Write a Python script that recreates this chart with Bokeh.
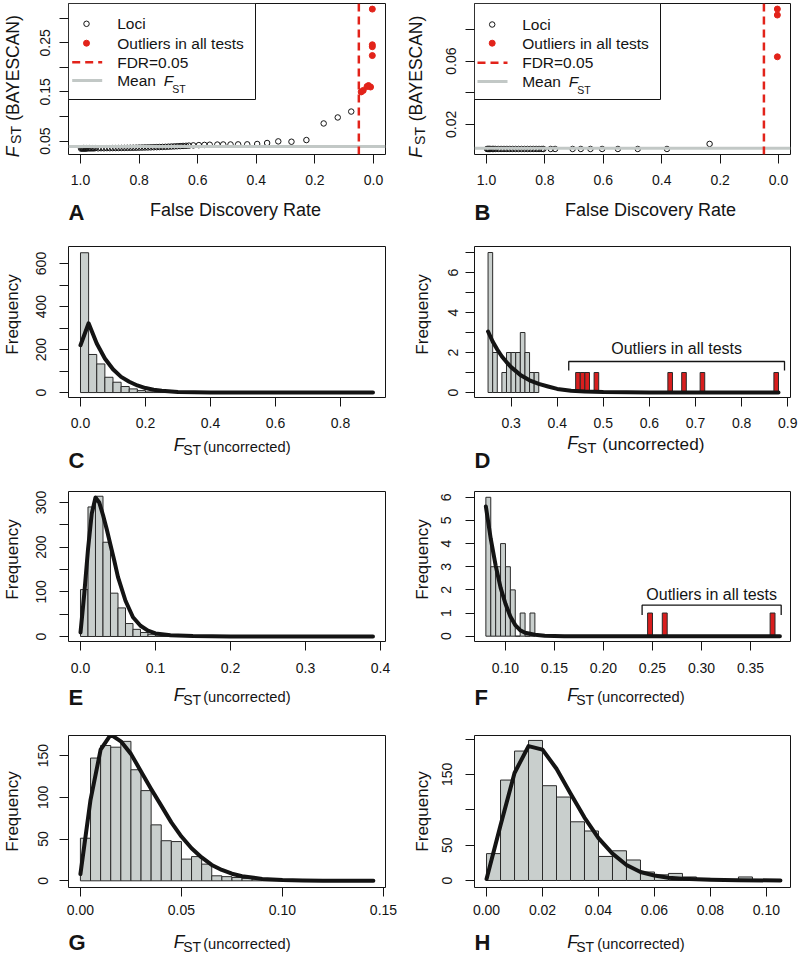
import numpy as np
from bokeh.plotting import figure
from bokeh.models import Range1d, FixedTicker, Label, Span, Spacer
from bokeh.layouts import row, column
from bokeh.embed import file_html
from bokeh.resources import INLINE

FONT = "Liberation Sans"
INK = "#141414"
GREY_BAR = "#c9cfcd"
RED = "#e2231a"
RED_BAR = "#d91e1e"
MEAN_GREY = "#c2c8c6"

# ---------------- data ----------------
FDR_threshold = 0.05

# Panel A : BAYESCAN Fst vs FDR (dataset 1)
A_loci_fdr = [0.998, 0.995, 0.992, 0.99, 0.987, 0.985, 0.982, 0.98,
              0.975, 0.97, 0.965, 0.96, 0.955, 0.95,
              0.94, 0.93, 0.92, 0.91, 0.90, 0.89, 0.88, 0.87, 0.86, 0.85,
              0.84, 0.83, 0.82, 0.81, 0.80, 0.79, 0.78, 0.77, 0.76, 0.75,
              0.74, 0.73, 0.72, 0.71, 0.70, 0.69, 0.68, 0.67, 0.66, 0.65,
              0.64, 0.63,
              0.615, 0.596, 0.577, 0.559, 0.533, 0.513, 0.488, 0.462, 0.431,
              0.397, 0.363, 0.325, 0.280, 0.229, 0.170, 0.122, 0.076]
A_loci_fst = [0.0345, 0.0355, 0.0348, 0.0356, 0.0346, 0.0354, 0.0347, 0.0355,
              0.0349, 0.0356, 0.0350, 0.0355, 0.0351, 0.0356,
              0.0352, 0.0355, 0.0353, 0.0356, 0.0355, 0.0357, 0.0357, 0.0358, 0.0359, 0.0360,
              0.0361, 0.0362, 0.0363, 0.0364, 0.0366, 0.0367, 0.0369, 0.0370, 0.0372, 0.0374,
              0.0376, 0.0378, 0.0380, 0.0382, 0.0385, 0.0388, 0.0391, 0.0394, 0.0397, 0.0400,
              0.0403, 0.0407,
              0.0412, 0.0417, 0.0421, 0.0425, 0.0428, 0.0430, 0.0430, 0.0432, 0.0433,
              0.0440, 0.0460, 0.0493, 0.0486, 0.0520, 0.0858, 0.0980, 0.1100]
A_out_fdr = [0.004, 0.004, 0.004, 0.004, 0.010, 0.017, 0.022, 0.035, 0.042]
A_out_fst = [0.3186, 0.246, 0.242, 0.224, 0.160, 0.163, 0.161, 0.153, 0.150]
A_mean_fst = 0.039

# Panel B : BAYESCAN Fst vs FDR (dataset 2)
B_loci_fdr = [0.998, 0.995, 0.992, 0.99, 0.985, 0.98, 0.975, 0.97, 0.96, 0.95,
              0.94, 0.93, 0.92, 0.91, 0.90, 0.89, 0.88, 0.87, 0.86, 0.85,
              0.84, 0.83, 0.82, 0.81, 0.805, 0.780, 0.765, 0.705, 0.677, 0.644,
              0.604, 0.550, 0.482, 0.382, 0.236]
B_loci_fst = [0.0044, 0.0044, 0.0044, 0.0044, 0.0044, 0.0044, 0.0044, 0.0044, 0.0044, 0.0044,
              0.0044, 0.0044, 0.0044, 0.0044, 0.0044, 0.0044, 0.0044, 0.0044, 0.0044, 0.0044,
              0.0044, 0.0044, 0.0044, 0.0044, 0.0044, 0.0044, 0.0044, 0.0044, 0.0044, 0.0044,
              0.0044, 0.0044, 0.0044, 0.0044, 0.0076]
B_out_fdr = [0.004, 0.004, 0.004]
B_out_fst = [0.0929, 0.0891, 0.0627]
B_mean_fst = 0.0048

# Panel C : histogram of uncorrected Fst (dataset 1)
C_bin_start, C_bin_width = 0.0, 0.025
C_counts = [650, 177, 133, 71, 48, 28, 17, 9, 3, 3, 9, 3, 5, 4, 1, 0, 0, 1,
            2, 1, 0, 0, 0, 0, 0, 1, 1, 0, 1, 0, 0, 0, 0, 0, 1, 0]
C_curve_x = [0.0, 0.025, 0.05, 0.075, 0.1, 0.125, 0.15, 0.175, 0.2, 0.225, 0.25,
             0.3, 0.35, 0.4, 0.5, 0.6, 0.7, 0.8, 0.9]
C_curve_y = [220, 322, 228, 158, 108, 73, 50, 33, 21, 13, 8, 3, 1.2, 0.5, 0.1, 0, 0, 0, 0]

# Panel D : tail of C (Fst > 0.25)
D_bin_start, D_bin_width = 0.25, 0.01
D_counts = [7, 2, 0, 1, 2, 2, 2, 3, 2, 1, 1]
D_out_left = [0.44, 0.45, 0.46, 0.48, 0.64, 0.67, 0.71, 0.87]
D_out_counts = [1, 1, 1, 1, 1, 1, 1, 1]
D_curve_x = [0.25, 0.26, 0.27, 0.28, 0.29, 0.30, 0.32, 0.34, 0.36, 0.38, 0.40,
             0.43, 0.46, 0.50, 0.60, 0.70, 0.80, 0.88]
D_curve_y = [3.05, 2.55, 2.15, 1.8, 1.52, 1.27, 0.88, 0.61, 0.43, 0.30, 0.18,
             0.09, 0.05, 0.02, 0.0, 0.0, 0.0, 0.0]
D_bracket = (0.425, 0.893, 1.55, 1.1, 2.2)   # x0, x1, bar, tick end, text y

# Panel E : histogram of uncorrected Fst (dataset 2)
E_bin_start, E_bin_width = 0.0, 0.01
E_counts = [105, 290, 314, 211, 97, 64, 29, 16, 9, 5, 3, 2, 1, 1, 0, 1, 0, 0, 0, 1,
            0, 0, 0, 0, 0, 0, 0, 0, 0, 0, 0, 0, 0, 0, 0, 0, 0, 0, 1]
E_curve_x = [0.0, 0.005, 0.01, 0.015, 0.02, 0.025, 0.03, 0.035, 0.04, 0.045, 0.05,
             0.06, 0.07, 0.08, 0.09, 0.1, 0.12, 0.15, 0.2, 0.3, 0.39]
E_curve_y = [9, 95, 195, 275, 311, 300, 272, 240, 205, 170, 133, 80, 43, 24, 13, 7,
             3, 1, 0, 0, 0]

# Panel F : tail of E (Fst > 0.08)
F_bin_start, F_bin_width = 0.08, 0.005
F_counts = [6, 3, 3, 4, 3, 2, 0, 1, 0, 1]
F_out_left = [0.245, 0.26, 0.37]
F_out_counts = [1, 1, 1]
F_curve_x = [0.08, 0.085, 0.09, 0.095, 0.10, 0.105, 0.11, 0.115, 0.12, 0.13, 0.14,
             0.16, 0.20, 0.25, 0.30, 0.35, 0.38]
F_curve_y = [5.6, 4.2, 3.05, 2.1, 1.4, 0.85, 0.48, 0.26, 0.15, 0.06, 0.02, 0, 0, 0,
             0, 0, 0]
F_bracket = (0.2394, 0.3813, 1.34, 0.92, 1.81)

# Panel G : histogram of uncorrected Fst (dataset 3)
G_bin_start, G_bin_width = 0.0, 0.005
G_counts = [51, 147, 162, 160, 167, 133, 108, 67, 48, 47, 26, 29, 20, 6, 5, 4, 3,
            2, 1, 1, 1, 0, 1, 0, 0, 0, 0, 1, 1]
G_curve_x = [0.0, 0.005, 0.01, 0.015, 0.02, 0.025, 0.03, 0.035, 0.04, 0.045, 0.05,
             0.055, 0.06, 0.065, 0.07, 0.075, 0.08, 0.09, 0.1, 0.11, 0.12, 0.13, 0.145]
G_curve_y = [8, 97, 157, 175, 167, 152, 131, 110, 90, 70, 53, 39, 28, 19, 13, 8.5,
             5.5, 2.3, 1, 0.4, 0.2, 0.1, 0]

# Panel H : histogram of uncorrected Fst (dataset 4)
H_bin_start, H_bin_width = 0.0, 0.005
H_counts = [38, 142, 183, 198, 134, 118, 83, 70, 34, 42, 29, 12, 8, 10, 5, 3, 2, 1,
            5, 1, 1]
H_curve_x = [0.0, 0.005, 0.01, 0.015, 0.02, 0.025, 0.03, 0.035, 0.04, 0.045, 0.05,
             0.055, 0.06, 0.065, 0.07, 0.08, 0.09, 0.105]
H_curve_y = [2, 78, 152, 190, 185, 158, 123, 89, 60, 38, 22, 12, 7, 4, 2.4, 1, 0.4, 0]

# ticks and tick labels
A_xticks = [0.0, 0.2, 0.4, 0.6, 0.8, 1.0]
A_xlabels = ["0.0", "0.2", "0.4", "0.6", "0.8", "1.0"]
A_yticks = [0.05, 0.10, 0.15, 0.20, 0.25, 0.30]
A_ylabels = ["0.05", "", "0.15", "", "0.25", ""]
B_yticks = [0.02, 0.04, 0.06, 0.08]
B_ylabels = ["0.02", "", "0.06", ""]
C_xticks = [0.0, 0.2, 0.4, 0.6, 0.8]
C_xlabels = ["0.0", "0.2", "0.4", "0.6", "0.8"]
C_yticks = [0, 100, 200, 300, 400, 500, 600]
C_ylabels = ["0", "", "200", "", "400", "", "600"]
D_xticks = [0.3, 0.4, 0.5, 0.6, 0.7, 0.8, 0.9]
D_xlabels = ["0.3", "0.4", "0.5", "0.6", "0.7", "0.8", "0.9"]
D_yticks = [0, 1, 2, 3, 4, 5, 6, 7]
D_ylabels = ["0", "", "2", "", "4", "", "6", ""]
E_xticks = [0.0, 0.1, 0.2, 0.3, 0.4]
E_xlabels = ["0.0", "0.1", "0.2", "0.3", "0.4"]
E_yticks = [0, 50, 100, 150, 200, 250, 300]
E_ylabels = ["0", "", "100", "", "200", "", "300"]
F_xticks = [0.10, 0.15, 0.20, 0.25, 0.30, 0.35]
F_xlabels = ["0.10", "0.15", "0.20", "0.25", "0.30", "0.35"]
F_yticks = [0, 1, 2, 3, 4, 5, 6]
F_ylabels = ["0", "1", "2", "3", "4", "5", "6"]
G_xticks = [0.00, 0.05, 0.10, 0.15]
G_xlabels = ["0.00", "0.05", "0.10", "0.15"]
G_yticks = [0, 50, 100, 150]
G_ylabels = ["0", "50", "100", "150"]
H_xticks = [0.00, 0.02, 0.04, 0.06, 0.08, 0.10]
H_xlabels = ["0.00", "0.02", "0.04", "0.06", "0.08", "0.10"]
H_yticks = [0, 50, 100, 150, 200]
H_ylabels = ["0", "50", "", "150", ""]

# ---------------- layout (page pixels) ----------------
ROW_T = [0, 236, 482, 726]      # top of each panel row
ROW_BT = [3, 10, 9, 9]          # gap above plot box
ROW_FH = [151, 151, 150, 152]   # plot box height
ROW_BB = [40, 36, 40, 40]       # room for tick labels
CAP_END = [236, 482, 726, 959]  # bottom of caption strip
YT_W = [26, 34]                 # y-title strip width (left / right column)
COL_L = [0, 400]
BL = [42, 40]
MAIN_W = [374, 365]
BR = [15, 9]


def blank(L, T, W, H):
    """Text-only strip whose data coordinates equal page pixels."""
    f = figure(width=W, height=H, x_range=Range1d(L, L + W), y_range=Range1d(T + H, T),
               x_axis_location=None, y_axis_location=None,
               min_border=0, min_border_left=0, min_border_right=0,
               min_border_top=0, min_border_bottom=0,
               toolbar_location=None, tools="", output_backend="svg")
    f.outline_line_color = None
    f.background_fill_color = "white"
    f.border_fill_color = "white"
    f.grid.visible = False
    return f


def txt(p, x, base, text, size, style="normal", align="left", **kw):
    """Horizontal text given its baseline (page px); anchored at the em middle."""
    p.add_layout(Label(x=x, y=base - 0.35 * size, text=text, text_font=FONT,
                       text_font_size=f"{size}px", text_font_style=style,
                       text_align=align, text_baseline="middle",
                       text_color=INK, **kw))


def vseg(W, H, text, size, style, standoff):
    """Narrow strip carrying one vertical (bottom-to-top) text as an axis title."""
    f = figure(width=W, height=H, x_range=Range1d(0, 1), y_range=Range1d(0, 1),
               x_axis_location=None, y_axis_location="left",
               min_border_left=W - 1, min_border_right=0,
               min_border_top=0, min_border_bottom=0,
               toolbar_location=None, tools="", output_backend="svg")
    f.outline_line_color = None
    f.background_fill_color = "white"
    f.border_fill_color = "white"
    f.grid.visible = False
    ax = f.yaxis[0]
    ax.ticker = FixedTicker(ticks=[])
    ax.major_tick_out = 0
    ax.major_tick_in = 0
    ax.minor_tick_out = 0
    ax.minor_tick_in = 0
    ax.axis_line_color = None
    ax.major_label_text_font_size = "1px"
    ax.major_label_standoff = 0
    ax.axis_label = text
    ax.axis_label_text_font = FONT
    ax.axis_label_text_font_size = f"{size}px"
    ax.axis_label_text_font_style = style
    ax.axis_label_text_color = INK
    ax.axis_label_standoff = standoff
    return f


def ystrip(col, T, H, pieces):
    """pieces: (top, bottom, text, size, style, baseline_x) in page pixels."""
    W = YT_W[col]
    frame_left = COL_L[col] + W - 1
    kids = []
    cur = T
    for top, bot, text, size, style, bx in pieces:
        if top > cur:
            kids.append(Spacer(width=W, height=top - cur))
        stand = int(round(frame_left - (bx + 0.212 * size)))
        kids.append(vseg(W, bot - top, text, size, style, max(stand, 0)))
        cur = bot
    if T + H > cur:
        kids.append(Spacer(width=W, height=T + H - cur))
    return column(*kids)


def panel(col, r, xr, yr, xt, xl, yt, yl, xstand, ystand, ypieces):
    L = COL_L[col] + YT_W[col]
    T = ROW_T[r]
    W = MAIN_W[col]
    H = ROW_BT[r] + ROW_FH[r] + ROW_BB[r]
    p = figure(width=W, height=H, min_border_left=BL[col], min_border_right=BR[col],
               min_border_top=ROW_BT[r], min_border_bottom=ROW_BB[r],
               x_range=Range1d(*xr), y_range=Range1d(*yr),
               toolbar_location=None, tools="", output_backend="svg")
    p.grid.visible = False
    p.outline_line_color = INK
    p.outline_line_width = 1
    p.outline_line_alpha = 1
    p.background_fill_color = "white"
    p.border_fill_color = "white"
    for ax, ticks, labels, st in ((p.xaxis[0], xt, xl, xstand),
                                  (p.yaxis[0], yt, yl, ystand)):
        ax.ticker = FixedTicker(ticks=ticks)
        ax.major_label_overrides = {t: s for t, s in zip(ticks, labels)}
        ax.axis_line_color = None
        ax.major_tick_in = 0
        ax.major_tick_out = 9
        ax.major_tick_line_color = INK
        ax.minor_tick_line_color = None
        ax.major_label_text_font = FONT
        ax.major_label_text_font_size = "14px"
        ax.major_label_text_color = INK
        ax.major_label_standoff = st
    p.yaxis[0].major_label_orientation = "vertical"
    # page-pixel ranges for in-box annotations (legend)
    fl, fr = L + BL[col], L + W - BR[col]
    ft, fb = T + ROW_BT[r], T + ROW_BT[r] + ROW_FH[r]
    p.extra_x_ranges = {"page_x": Range1d(fl, fr)}
    p.extra_y_ranges = {"page_y": Range1d(fb, ft)}
    ytitle = ystrip(col, T, H, ypieces)
    cap = blank(COL_L[col], T + H, YT_W[col] + W, CAP_END[r] - (T + H))
    return p, ytitle, cap


def hist(p, start, width, counts, color):
    left = start + width * np.arange(len(counts))
    p.quad(left=left, right=left + width, bottom=0, top=counts,
           fill_color=color, line_color="#2a2a2a", line_width=1)


def red_bars(p, lefts, width, counts):
    left = np.array(lefts)
    p.quad(left=left, right=left + width, bottom=0, top=counts,
           fill_color=RED_BAR, line_color="#2a2a2a", line_width=1)


def curve(p, x, y):
    p.line(x, y, line_width=4, line_color=INK, line_join="round", line_cap="round")


def bracket(p, b):
    x0, x1, yb, yt, ty = b
    p.line([x0, x0, x1, x1], [yt, yb, yb, yt], line_color=INK, line_width=1.3)
    p.add_layout(Label(x=(x0 + x1) / 2, y=ty, text="Outliers in all tests",
                       text_font=FONT, text_font_size="16px", text_align="center",
                       text_baseline="middle", text_color=INK))


def legend(p, box, sym_x, line_x, text_x, rows, f_x, st_x):
    kw = dict(x_range_name="page_x", y_range_name="page_y")
    p.quad(left=[box[0]], right=[box[1]], top=[box[2]], bottom=[box[3]],
           fill_color="white", line_color=INK, line_width=1, **kw)
    p.scatter([sym_x], [rows[0]], marker="circle", size=5.5, fill_color=None,
              line_color=INK, line_width=1, **kw)
    p.scatter([sym_x], [rows[1]], marker="circle", size=6, fill_color=RED,
              line_color=RED, **kw)
    p.line(list(line_x), [rows[2], rows[2]], line_color=RED, line_width=2.5,
           line_dash="8 5", **kw)
    p.line(list(line_x), [rows[3], rows[3]], line_color=MEAN_GREY, line_width=3, **kw)
    for rr, t in zip(rows[:3], ["Loci", "Outliers in all tests", "FDR=0.05"]):
        txt(p, text_x, rr + 5.4, t, 15.5, **kw)
    txt(p, text_x, rows[3] + 5.4, "Mean", 15.5, **kw)
    txt(p, f_x, rows[3] + 5.4, "F", 15.5, "italic", **kw)
    txt(p, st_x, rows[3] + 12.6, "ST", 10.5, **kw)


def bayescan(p, loci_x, loci_y, out_x, out_y, mean_fst):
    p.add_layout(Span(location=mean_fst, dimension="width", line_color=MEAN_GREY,
                      line_width=3))
    p.scatter(loci_x, loci_y, marker="circle", size=5.5, fill_color=None,
              line_color=INK, line_width=1)
    p.scatter(out_x, out_y, marker="circle", size=6, fill_color=RED, line_color=RED)
    p.add_layout(Span(location=FDR_threshold, dimension="height", line_color=RED,
                      line_width=2.5, line_dash="8 5"))


def fst_y_pieces(segs, bx_main, bx_sub):
    (p0, p1), (s0, s1), (f0, f1) = segs
    return [(p0, p1, "(BAYESCAN)", 17.5, "normal", bx_main),
            (s0, s1, "ST", 14, "normal", bx_sub),
            (f0, f1, "F", 17.5, "italic", bx_main)]


def freq_pieces(top, bot, bx):
    return [(top, bot, "Frequency", 17, "normal", bx)]


def x_fst_title(f, x_f, base, x_st, x_par, st_size, par_size):
    txt(f, x_f, base, "F", 17.5, "italic")
    txt(f, x_st, base + 3, "ST", st_size)
    txt(f, x_par, base + 1, "(uncorrected)", par_size)


def letter(f, x, base, t):
    txt(f, x, base, t, 22, "bold")


# ---- A ----
pA, yA, cA = panel(0, 0, (1.041, -0.041), (0.0226, 0.330), A_xticks, A_xlabels,
                   A_yticks, A_ylabels, 11, 9,
                   fst_y_pieces([(10, 125), (125, 144), (144, 159)], 17, 19.5))
bayescan(pA, A_loci_fdr, A_loci_fst, A_out_fdr, A_out_fst, A_mean_fst)
legend(pA, (68, 255, 3, 99), 86, (71.7, 101.7), 116.7, [23.3, 42.7, 61.7, 80.0],
       163.3, 171.7)
txt(cA, 235, 216, "False Discovery Rate", 18, align="center")
letter(cA, 68, 220, "A")

# ---- B ----
pB, yB, cB = panel(1, 0, (1.041, -0.041), (0.0009, 0.0964), A_xticks, A_xlabels,
                   B_yticks, B_ylabels, 11, 9,
                   fst_y_pieces([(10, 126), (126, 145), (145, 159)], 421.5, 424))
bayescan(pB, B_loci_fdr, B_loci_fst, B_out_fdr, B_out_fst, B_mean_fst)
legend(pB, (474, 660, 3, 99), 491.7, (477, 507), 521.7, [24.0, 42.7, 62.3, 81.0],
       568.3, 576.7)
txt(cB, 650, 216, "False Discovery Rate", 18, align="center")
letter(cB, 474, 220, "B")

# ---- C ----
pC, yC, cC = panel(0, 1, (-0.0369, 0.9385), (-23, 679), C_xticks, C_xlabels,
                   C_yticks, C_ylabels, 11, 13, freq_pieces(270, 358, 16.5))
hist(pC, C_bin_start, C_bin_width, C_counts, GREY_BAR)
curve(pC, C_curve_x, C_curve_y)
x_fst_title(cC, 173.3, 451, 182.7, 202.7, 14, 14.7)
letter(cC, 68, 468, "C")

# ---- D ----
pD, yD, cD = panel(1, 1, (0.2206, 0.906), (-0.25, 7.3), D_xticks, D_xlabels,
                   D_yticks, D_ylabels, 11, 8, freq_pieces(270, 358, 427))
hist(pD, D_bin_start, D_bin_width, D_counts, GREY_BAR)
red_bars(pD, D_out_left, D_bin_width, D_out_counts)
curve(pD, D_curve_x, D_curve_y)
bracket(pD, D_bracket)
x_fst_title(cD, 566.7, 449, 576.7, 601.7, 15, 17.2)
letter(cD, 474, 468, "D")

# ---- E ----
pE, yE, cE = panel(0, 2, (-0.016, 0.4067), (-11.2, 324.6), E_xticks, E_xlabels,
                   E_yticks, E_ylabels, 12, 13, freq_pieces(515, 603, 16.5))
hist(pE, E_bin_start, E_bin_width, E_counts, GREY_BAR)
curve(pE, E_curve_x, E_curve_y)
x_fst_title(cE, 173.3, 701, 182.7, 202.7, 14, 14.7)
letter(cE, 68, 705, "E")

# ---- F ----
pF, yF, cF = panel(1, 2, (0.0684, 0.3908), (-0.23, 6.25), F_xticks, F_xlabels,
                   F_yticks, F_ylabels, 12, 14, freq_pieces(515, 603, 427))
hist(pF, F_bin_start, F_bin_width, F_counts, GREY_BAR)
red_bars(pF, F_out_left, F_bin_width, F_out_counts)
curve(pF, F_curve_x, F_curve_y)
bracket(pF, F_bracket)
x_fst_title(cF, 566.7, 701, 575.7, 596.7, 14, 14.7)
letter(cF, 474, 705, "F")

# ---- G ----
pG, yG, cG = panel(0, 3, (-0.0059, 0.151), (-8, 174), G_xticks, G_xlabels,
                   G_yticks, G_ylabels, 8, 11, freq_pieces(767, 855, 16.5))
hist(pG, G_bin_start, G_bin_width, G_counts, GREY_BAR)
curve(pG, G_curve_x, G_curve_y)
x_fst_title(cG, 173.3, 948, 182.7, 202.7, 14, 14.7)
letter(cG, 68, 950, "G")

# ---- H ----
pH, yH, cH = panel(1, 3, (-0.0043, 0.1086), (-9.9, 205), H_xticks, H_xlabels,
                   H_yticks, H_ylabels, 8, 13, freq_pieces(767, 855, 427))
hist(pH, H_bin_start, H_bin_width, H_counts, GREY_BAR)
curve(pH, H_curve_x, H_curve_y)
x_fst_title(cH, 566.7, 948, 575.7, 596.7, 14, 14.7)
letter(cH, 474, 950, "H")

layout = column(
    row(yA, pA, yB, pB), row(cA, cB),
    row(yC, pC, yD, pD), row(cC, cD),
    row(yE, pE, yF, pF), row(cE, cF),
    row(yG, pG, yH, pH), row(cG, cH),
)

open("out.html", "w").write(file_html(layout, INLINE))
